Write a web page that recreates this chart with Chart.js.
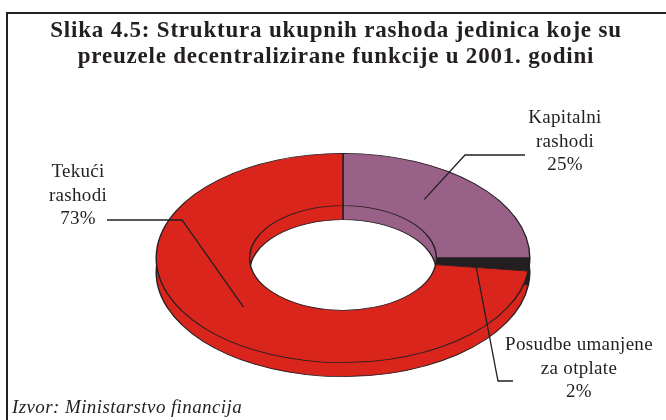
<!DOCTYPE html>
<html>
<head>
<meta charset="utf-8">
<title>Slika 4.5</title>
<script src="https://cdn.jsdelivr.net/npm/chart.js@4.4.1/dist/chart.umd.min.js"></script>
<style>
  html, body { margin: 0; padding: 0; background: #fff; }
  #wrap { width: 666px; height: 420px; }
</style>
</head>
<body>
<div id="wrap"><canvas id="rashodiChart" width="666" height="420"></canvas></div>
<script>
// Podaci: struktura ukupnih rashoda (%), redom od vrha u smjeru kazaljke
const categories = ["Kapitalni rashodi", "Posudbe umanjene za otplate", "Tekući rashodi"];
const shares = [25, 2, 73];
const labelLines = [["Kapitalni", "rashodi"], ["Posudbe umanjene", "za otplate"], ["Tekući", "rashodi"]];
const titleLines = [
  "Slika 4.5: Struktura ukupnih rashoda jedinica koje su",
  "preuzele decentralizirane funkcije u 2001. godini"
];
const sourceText = "Izvor: Ministarstvo financija";

const sliceColors = ["#9a6188", "#231f20", "#da251d"];
const ink = "#231f20";
const SQUASH = 0.56;   // omjer visine i sirine elipse
const DEPTH = 14;      // debljina "3D" prstena

// raspored natpisa i linija (tekst centar, prva linija, lomovi)
const labelLayout = [
  { cx: 565, y0: 123, frac: 0.42, path: [[525, 155], [465, 155]] },
  { cx: 579, y0: 350, frac: 0.5,  path: [[513, 381], [498, 381]] },
  { cx: 78,  y0: 177, frac: 0.5,  path: [[107, 220], [182, 220]] }
];
const LINE_H = 23.5;

function squash(ctx, arc) {
  ctx.translate(arc.x, arc.y);
  ctx.scale(1 / SQUASH, 1);
  ctx.translate(-arc.x, -arc.y);
}

// sidro linije na prstenu, preracunato u elipsu
function anchorOf(arc, frac) {
  const p = arc.getProps(["x", "y", "startAngle", "endAngle", "innerRadius", "outerRadius"], true);
  const a = p.startAngle + frac * (p.endAngle - p.startAngle);
  const r = p.innerRadius + 0.42 * (p.outerRadius - p.innerRadius);
  return [p.x + r * Math.cos(a) / SQUASH, p.y + r * Math.sin(a)];
}

const ring3d = {
  id: "ring3d",
  beforeDraw(chart) {
    const ctx = chart.ctx;
    ctx.save();
    ctx.strokeStyle = ink;
    ctx.lineWidth = 2;
    ctx.strokeRect(7, 13, 700, 450);
    ctx.fillStyle = ink;
    ctx.textAlign = "center";
    ctx.font = "bold 23px 'Liberation Serif', serif";
    ctx.letterSpacing = "0.8px";
    titleLines.forEach((t, k) => ctx.fillText(t, 336, 37 + k * 26));
    ctx.restore();
  },
  beforeDatasetsDraw(chart) {
    const ctx = chart.ctx;
    const arcs = chart.getDatasetMeta(0).data;
    // donja ploha pomaknuta prema dolje = bocni zid
    ctx.save();
    ctx.translate(0, DEPTH);
    squash(ctx, arcs[0]);
    arcs.forEach(a => a.draw(ctx));
    ctx.restore();
    ctx.save();
    squash(ctx, arcs[0]);
  },
  afterDatasetsDraw(chart) {
    chart.ctx.restore();
  },
  afterDraw(chart) {
    const ctx = chart.ctx;
    const arcs = chart.getDatasetMeta(0).data;
    ctx.save();
    ctx.strokeStyle = ink;
    ctx.lineWidth = 1.3;
    ctx.fillStyle = ink;
    ctx.font = "19px 'Liberation Serif', serif";
    ctx.letterSpacing = "0.3px";
    ctx.textAlign = "center";
    ctx.textBaseline = "alphabetic";
    labelLayout.forEach((l, i) => {
      const [ax, ay] = anchorOf(arcs[i], l.frac);
      ctx.beginPath();
      ctx.moveTo(l.path[0][0], l.path[0][1]);
      ctx.lineTo(l.path[1][0], l.path[1][1]);
      ctx.lineTo(ax, ay);
      ctx.stroke();
      const lines = labelLines[i].concat([shares[i] + "%"]);
      lines.forEach((t, k) => ctx.fillText(t, l.cx, l.y0 + k * LINE_H));
    });
    ctx.textAlign = "left";
    ctx.font = "italic 19px 'Liberation Serif', serif";
    ctx.letterSpacing = "0.4px";
    ctx.fillText(sourceText, 12, 413);
    ctx.restore();
  }
};

new Chart(document.getElementById("rashodiChart").getContext("2d"), {
  type: "doughnut",
  data: {
    labels: categories,
    datasets: [{
      data: shares,
      backgroundColor: sliceColors,
      borderColor: ink,
      borderWidth: 0.8,
      cutout: "50%"
    }]
  },
  options: {
    responsive: false,
    devicePixelRatio: 1,
    animation: false,
    events: [],
    layout: { padding: { top: 153, left: 200, right: 180, bottom: 57 } },
    plugins: {
      legend: { display: false },
      tooltip: { enabled: false },
      title: { display: false }
    }
  },
  plugins: [ring3d]
});
</script>
</body>
</html>
